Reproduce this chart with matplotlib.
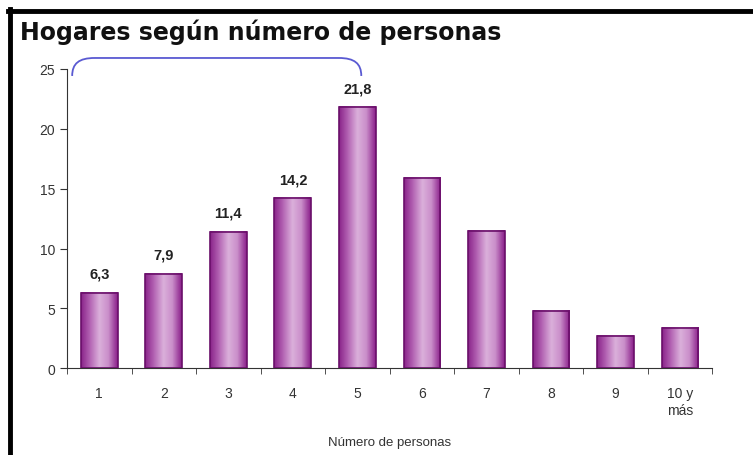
import numpy as np
import matplotlib
matplotlib.use("Agg")
import matplotlib.pyplot as plt
from matplotlib.colors import LinearSegmentedColormap
from matplotlib.path import Path
from matplotlib.patches import PathPatch
from matplotlib.lines import Line2D

# data
categories = ["1", "2", "3", "4", "5", "6", "7", "8", "9", "10 y\nmás"]
values = [6.3, 7.9, 11.4, 14.2, 21.8, 15.9, 11.5, 4.8, 2.7, 3.4]
labels = ["6,3", "7,9", "11,4", "14,2", "21,8", "", "", "", "", ""]
title = "Hogares según número de personas"
xlabel = "Número de personas"

plt.rcParams['font.family'] = ['Liberation Sans', 'DejaVu Sans']

fig = plt.figure(figsize=(7.53, 4.56), dpi=100)
ax = fig.add_axes([0.089, 0.19, 0.857, 0.657])

# gradient bars
cmap = LinearSegmentedColormap.from_list(
    "barg", ["#8a248a", "#b566b5", "#dbb0db", "#c98dc9", "#8a1e8a"])
grad = np.linspace(0, 1, 64).reshape(1, -1)
width = 0.57
x = np.arange(len(values))
bars = ax.bar(x, values, width, color="none", edgecolor="#6a0f6a",
              linewidth=1.2, zorder=3)
for xi, v in zip(x, values):
    ax.imshow(grad, extent=[xi - width / 2, xi + width / 2, 0, v],
              cmap=cmap, aspect="auto", zorder=2, interpolation="bilinear")

for xi, v, lab in zip(x, values, labels):
    if lab:
        ax.text(xi, v + 1.0, lab, ha="center", va="bottom",
                fontsize=10.5, fontweight="bold", color="#222222")

ax.set_xlim(-0.5, len(values) - 0.5)
ax.set_ylim(0, 25)
ax.set_yticks([0, 5, 10, 15, 20, 25])
ax.set_xticks(x)
ax.set_xticklabels(categories, fontsize=10, color="#333333", va="top")
ax.set_xticks(np.arange(-0.5, len(values)), minor=True)
ax.tick_params(axis="x", which="major", length=0, pad=13)
ax.tick_params(axis="x", which="minor", length=4, direction="out", color="#333333")
ax.tick_params(axis="y", length=5, direction="out", labelsize=10,
               labelcolor="#333333", color="#333333")
for s in ["top", "right"]:
    ax.spines[s].set_visible(False)
ax.spines["left"].set_color("#333333")
ax.spines["bottom"].set_color("#333333")
ax.set_xlabel(xlabel, fontsize=9.5, color="#333333")
ax.xaxis.set_label_coords(0.5, -0.225)

# blue bracket over bars 1-5
x0, x1 = -0.42, 4.06
yb, yt = 24.4, 25.9
rx, ry = 0.35, 1.3
verts = [(x0, yb), (x0, yb + 0.8 * ry), (x0 + 0.3 * rx, yt), (x0 + rx, yt),
         (x1 - rx, yt),
         (x1 - 0.3 * rx, yt), (x1, yb + 0.8 * ry), (x1, yb)]
codes = [Path.MOVETO, Path.CURVE4, Path.CURVE4, Path.CURVE4, Path.LINETO,
         Path.CURVE4, Path.CURVE4, Path.CURVE4]
ax.add_patch(PathPatch(Path(verts, codes), fill=False, edgecolor="#5a5ad2",
                       linewidth=1.3, clip_on=False))

fig.text(0.027, 0.912, title, fontsize=17, fontweight="bold", va="baseline",
         family=["DejaVu Sans"], color="#111111")

# black frame (top and left)
fig.add_artist(Line2D([0.0105, 1.0], [0.974, 0.974], color="black",
                      linewidth=3.5, transform=fig.transFigure))
fig.add_artist(Line2D([0.0135, 0.0135], [0.0, 0.978], color="black",
                      linewidth=3.5, transform=fig.transFigure))

fig.savefig("out.png", dpi=100)
